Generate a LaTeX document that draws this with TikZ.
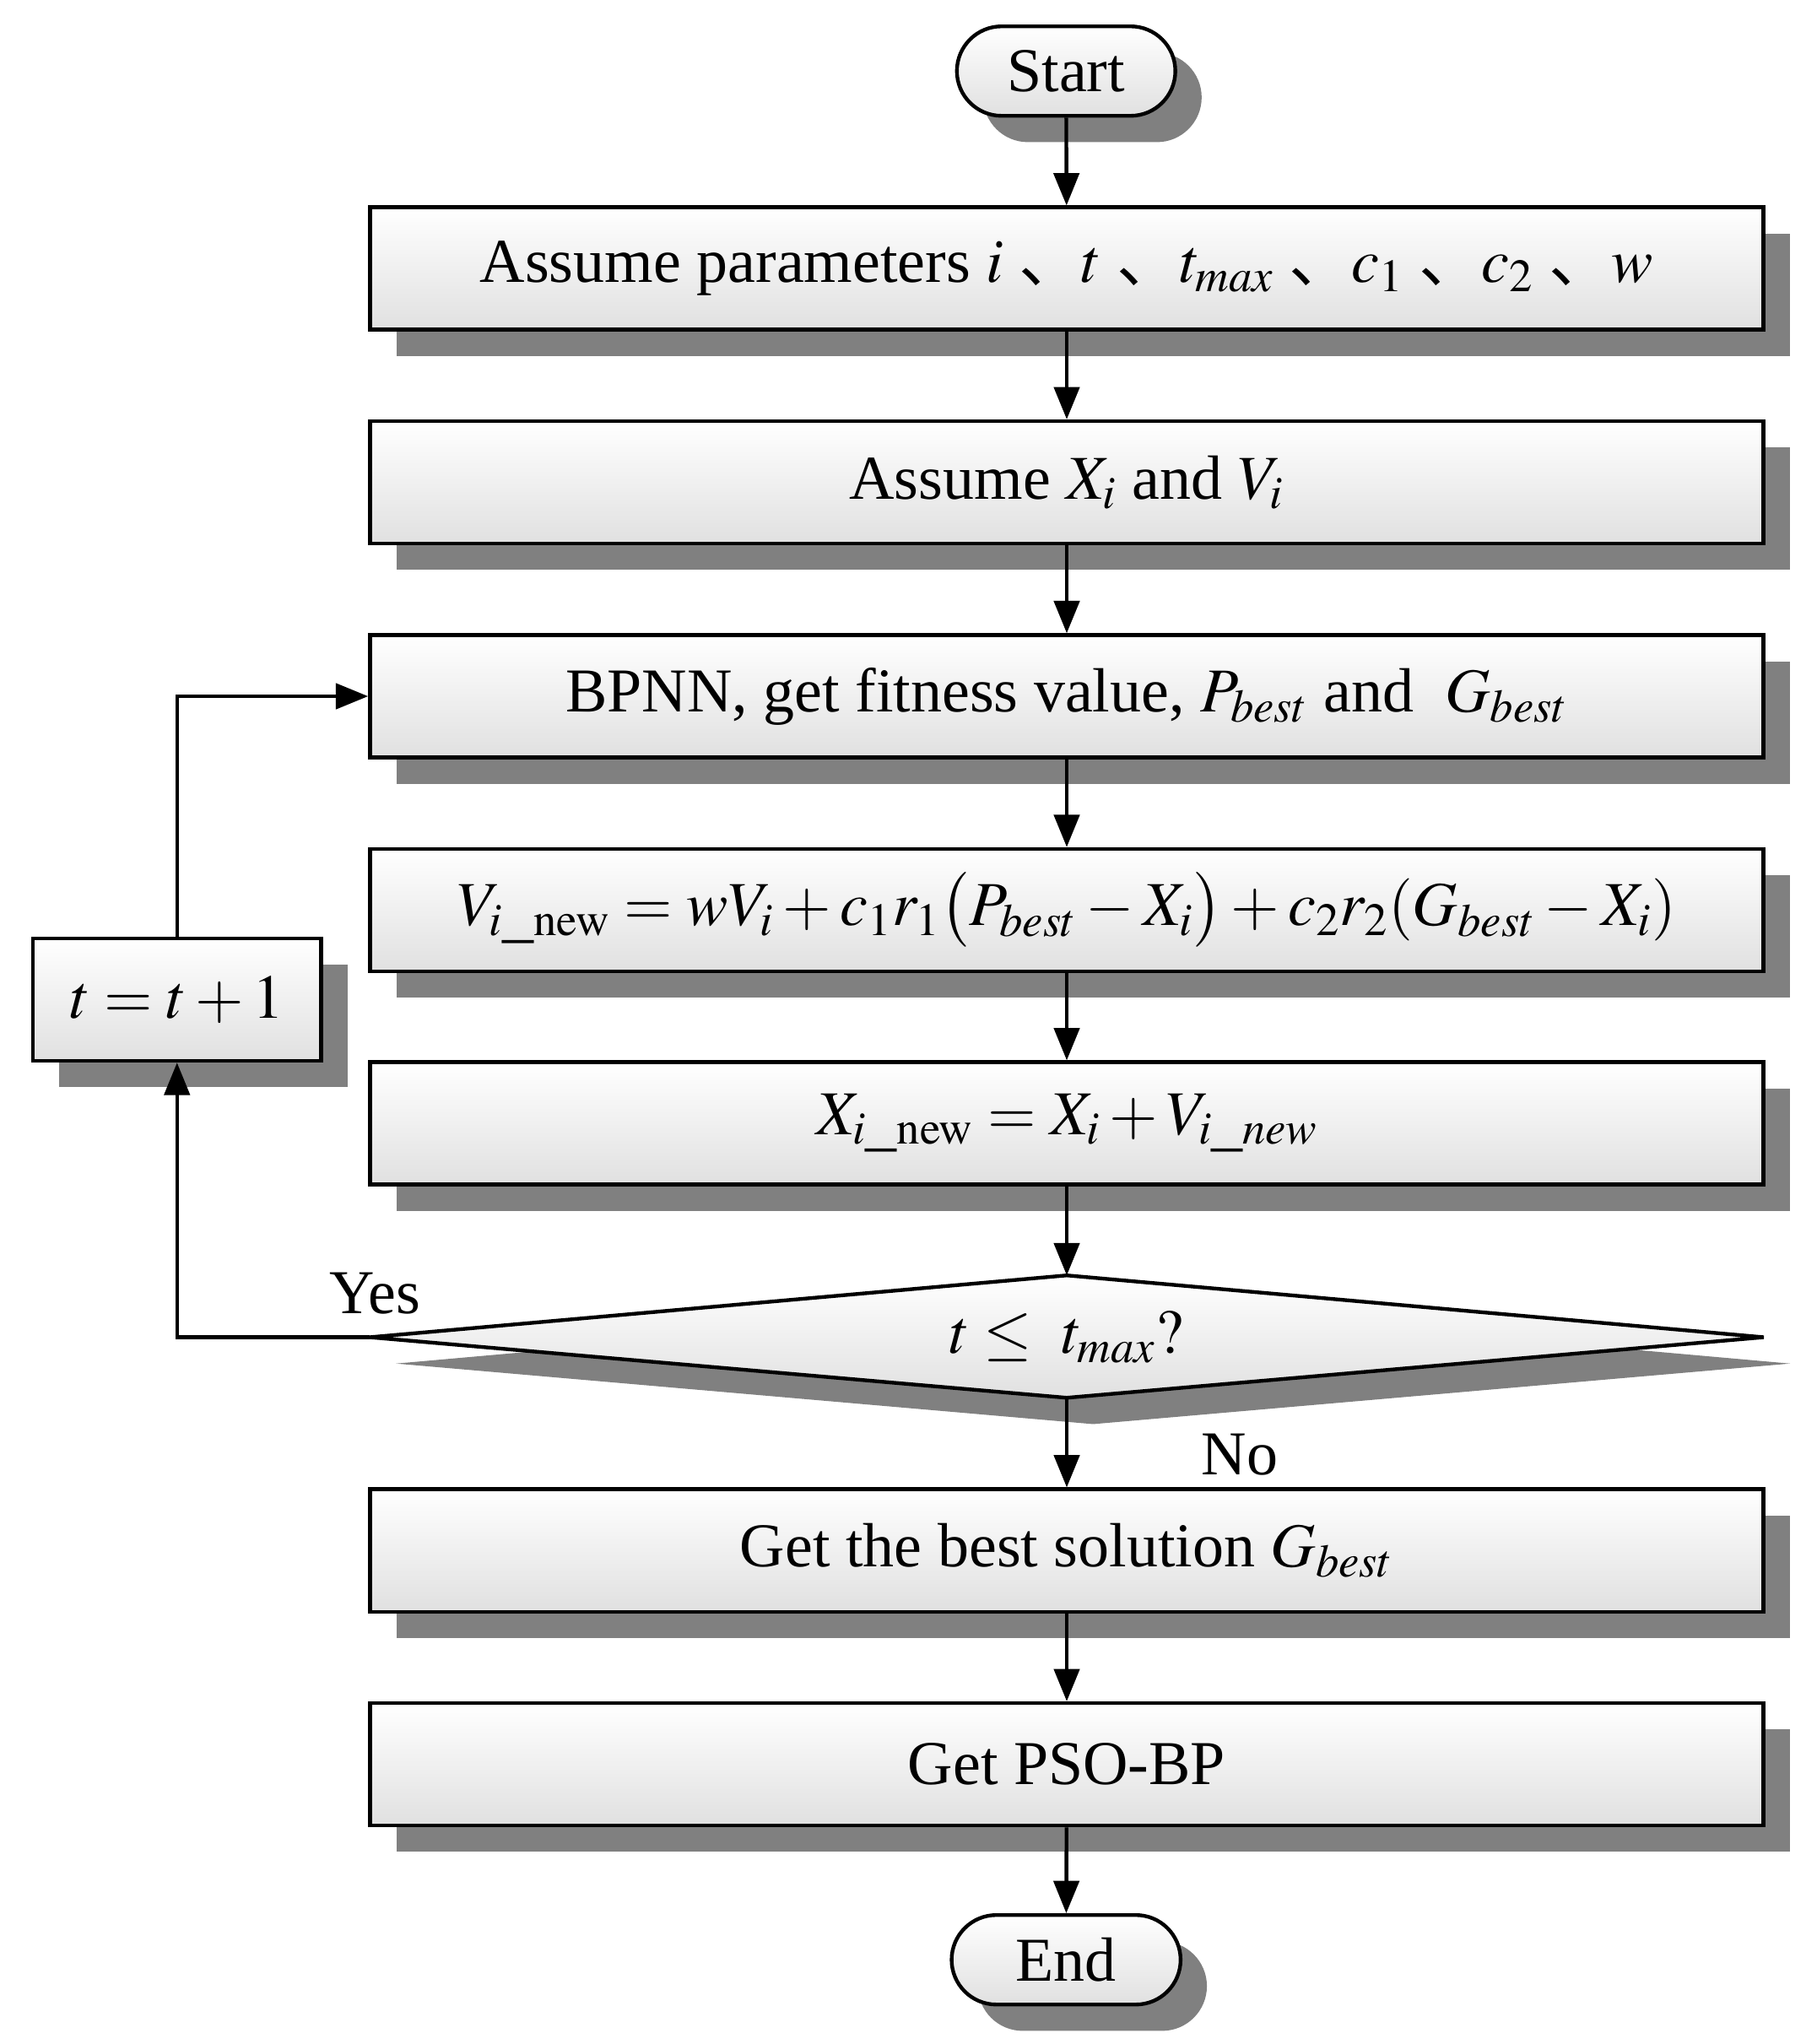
\documentclass[tikz,border=0pt]{standalone}
\usepackage{mathptmx}
\usepackage{fontspec}
\setmainfont{Liberation Serif}
\newfontfamily\cjk{Noto Sans CJK SC}
\usetikzlibrary{shadows,arrows.meta}
\begin{document}
\begin{tikzpicture}[x=0.02cm,y=-0.02cm,
  every node/.style={font=\fontsize{27}{32}\selectfont},
  sh/.style={drop shadow={shadow xshift=0.4cm,shadow yshift=-0.4cm,fill=black!50,opacity=1}},
  box/.style={draw,line width=1.6pt,minimum width=21.18cm,minimum height=1.86cm,top color=white,bottom color=black!12,sh},
  term/.style={draw,line width=1.6pt,rounded corners=0.68cm,minimum height=1.36cm,top color=white,bottom color=black!12,sh},
  arr/.style={-{Triangle[length=14pt,width=11pt]},line width=1.6pt}]
\useasboundingbox (0,0) rectangle (1380,1553);
\node[term,minimum width=3.32cm] (start) at (810,54) {Start};
\node[box] (b1) at (810.5,204) {Assume parameters $i$ {\cjk 、}$t$ {\cjk 、}$t_{max}$ {\cjk 、}$c_{1}$ {\cjk 、}$c_{2}$ {\cjk 、}$w$};
\node[box] (b2) at (810.5,366.5) {Assume $X_i$ and $V_i$};
\node[box] (b3) at (810.5,529) {BPNN, get fitness value, $P_{best}$ and \ $G_{best}$};
\node[box] (b4) at (810.5,691.5) {$V_{i\_\mathrm{new}}=wV_i+c_1r_1\bigl(P_{best}-X_i\bigr)+c_2r_2(G_{best}-X_i)$};
\node[box] (b5) at (810.5,853.5) {$X_{i\_\mathrm{new}}=X_i+V_{i\_new}$};
\coordinate (dl) at (281,1016); \coordinate (dr) at (1340,1016);
\coordinate (dt) at (810.5,969); \coordinate (db) at (810.5,1062);
\fill[black!50] (301,1036) -- (830.5,989) -- (1360,1036) -- (830.5,1082) -- cycle;
\draw[line width=1.6pt,top color=white,bottom color=black!12] (dl) -- (dt) -- (dr) -- (db) -- cycle;
\node (dia) at (810.5,1016) {$t\leq\ t_{max}?$};
\node[box] (b6) at (810.5,1178) {Get the best solution $G_{best}$};
\node[box] (b7) at (810.5,1340.5) {Get PSO-BP};
\node[term,minimum width=3.48cm] (end) at (810,1489) {End};
\node[draw,line width=1.6pt,minimum width=4.38cm,minimum height=1.86cm,top color=white,bottom color=black!12,sh] (inc) at (134.5,759.5) {$t=t+1$};
\node (yes) at (285,983) {Yes};
\node (no) at (942,1105) {No};
\draw[arr] (start) -- (b1);
\draw[arr] (b1) -- (b2);
\draw[arr] (b2) -- (b3);
\draw[arr] (b3) -- (b4);
\draw[arr] (b4) -- (b5);
\draw[arr] (b5) -- (dt);
\draw[arr] (db) -- (b6);
\draw[arr] (b6) -- (b7);
\draw[arr] (b7) -- (end);
\draw[arr] (dl) -| (inc.south);
\draw[arr] (inc.north) |- (b3.west);
\end{tikzpicture}
\end{document}
